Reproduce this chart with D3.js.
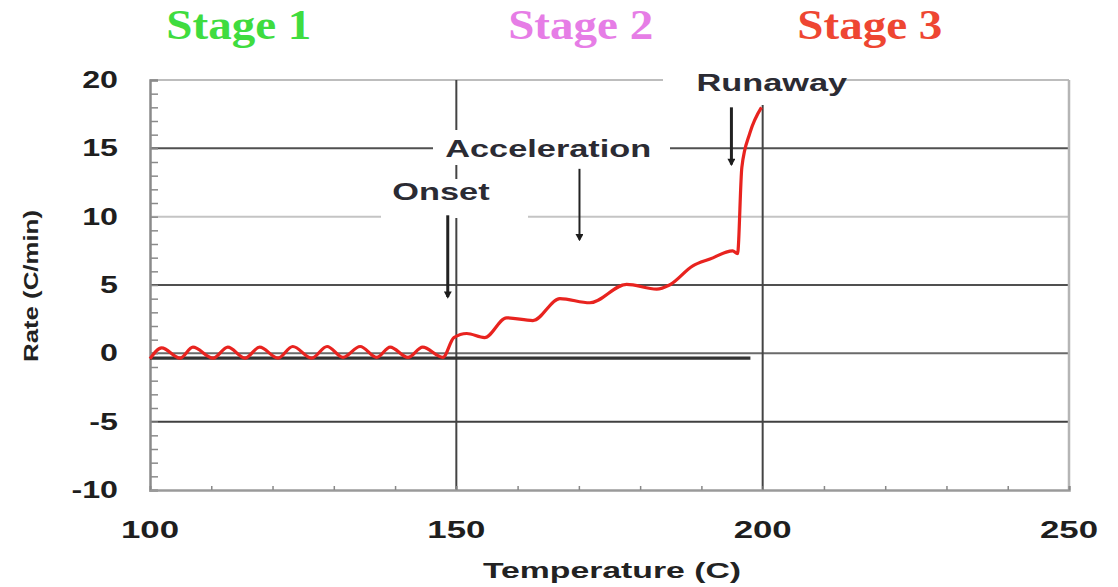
<!DOCTYPE html>
<html>
<head>
<meta charset="utf-8">
<script src="https://cdn.jsdelivr.net/npm/d3@7"></script>
<style>
html,body{margin:0;padding:0;background:#fff;}
svg{display:block;}
</style>
</head>
<body>
<svg id="chart" width="1118" height="587"></svg>
<script>
// ---- data ----
const temps = [100, 101.9, 104.9, 107.0, 110.3, 112.7, 115.5, 117.9, 120.9, 123.3, 126.4, 128.9, 131.5, 134.3, 137.0, 139.2, 142.1, 144.5, 147.8, 149.6, 151.7, 154.6, 158.2, 162.5, 166.9, 171.8, 177.8, 182.7, 184.8, 188.6, 191.4, 195.1, 195.9, 196.6, 197.9, 199.8];
const rates = [-0.4, 0.4, -0.35, 0.45, -0.35, 0.45, -0.35, 0.45, -0.35, 0.5, -0.35, 0.5, -0.3, 0.5, -0.3, 0.45, -0.3, 0.45, -0.3, 1.15, 1.45, 1.15, 2.6, 2.4, 4.0, 3.7, 5.05, 4.7, 5.0, 6.4, 6.9, 7.5, 7.3, 13.6, 16.1, 18.0];
const baselineTemps = [100, 198];
const baselineRates = [-0.35, -0.35];
const xTicks = [100, 150, 200, 250];
const yTicks = [20, 15, 10, 5, 0, -5, -10];
const stageNames = ["Stage 1", "Stage 2", "Stage 3"];
const stageColors = ["#3fdc3f", "#e67de6", "#ee4632"];
const stageTemps = [114.5, 170.3, 217.5];
const annotNames = ["Runaway", "Acceleration", "Onset"];
const annotTemps = [201.5, 165, 147.5];
const annotRates = [19.2, 14.4, 11.2];
const arrowTemps = [194.9, 170.1, 148.6];
const arrowFrom = [18.0, 13.5, 10.1];
const arrowTo = [13.6, 8.1, 3.9];

// ---- layout ----
const svg = d3.select("#chart");
const x = d3.scaleLinear().domain([100, 250]).range([150, 1069]);
const y = d3.scaleLinear().domain([-10, 20]).range([490, 80]);
const SANS = "'Liberation Sans', Arial, sans-serif";

function stretch(sel, f) {
  sel.each(function () {
    const w = this.getComputedTextLength();
    d3.select(this).attr("textLength", w * f).attr("lengthAdjust", "spacingAndGlyphs");
  });
}

// gridlines
const gridStyle = {20: ["#bdbdbd", 2], 15: ["#505050", 2], 10: ["#c4c4c4", 2], 5: ["#505050", 2], 0: ["#6a6a6a", 2], "-5": ["#404040", 2]};
svg.append("g").selectAll("line").data(yTicks.filter(v => v > -10)).join("line")
  .attr("x1", x(100)).attr("x2", x(250))
  .attr("y1", d => y(d)).attr("y2", d => y(d))
  .attr("stroke", d => gridStyle[d][0]).attr("stroke-width", d => gridStyle[d][1]);

// vertical gridlines
svg.append("g").selectAll("line").data([150, 200]).join("line")
  .attr("x1", d => x(d)).attr("x2", d => x(d))
  .attr("y1", y(20)).attr("y2", y(-10))
  .attr("stroke", "#444").attr("stroke-width", 2);
// right border
svg.append("line").attr("x1", x(250)).attr("x2", x(250)).attr("y1", y(20)).attr("y2", y(-10))
  .attr("stroke", "#b5b5b5").attr("stroke-width", 2.5);

// axes (left + bottom)
const yAxis = d3.axisLeft(y).ticks(30).tickSize(-8).tickFormat("");
const gy = svg.append("g").attr("transform", `translate(${x(100)},0)`).call(yAxis);
gy.select(".domain").attr("stroke", "#8a8a8a").attr("stroke-width", 2.5);
gy.selectAll(".tick line").attr("stroke", "#8a8a8a").attr("stroke-width", 1.5);

const xAxis = d3.axisBottom(x).ticks(15).tickSize(-4).tickFormat("");
const gx = svg.append("g").attr("transform", `translate(0,${y(-10)})`).call(xAxis);
gx.select(".domain").attr("stroke", "#9a9a9a").attr("stroke-width", 2.5);
gx.selectAll(".tick line").attr("stroke", "#888").attr("stroke-width", 1.5);

// tick labels
const yl = svg.append("g").selectAll("text").data(yTicks).join("text")
  .attr("x", 118).attr("y", d => y(d) + 8)
  .attr("text-anchor", "end")
  .attr("font-family", SANS).attr("font-weight", "bold").attr("font-size", 23)
  .attr("fill", "#1e1e1e").text(d => d);
stretch(yl, 1.4);

const xl = svg.append("g").selectAll("text").data(xTicks).join("text")
  .attr("x", d => x(d)).attr("y", 538)
  .attr("text-anchor", "middle")
  .attr("font-family", SANS).attr("font-weight", "bold").attr("font-size", 23.5)
  .attr("fill", "#1e1e1e").text(d => d);
stretch(xl, 1.48);

// axis titles
const xt = svg.append("text").attr("x", 612).attr("y", 578).attr("text-anchor", "middle")
  .attr("font-family", SANS).attr("font-weight", "bold").attr("font-size", 22.5)
  .attr("fill", "#222").text("Temperature (C)");
stretch(xt, 1.5);

svg.append("text").attr("transform", "translate(38,286) rotate(-90)")
  .attr("text-anchor", "middle")
  .attr("font-family", SANS).attr("font-weight", "bold").attr("font-size", 21)
  .attr("fill", "#222").attr("textLength", 152).attr("lengthAdjust", "spacingAndGlyphs")
  .text("Rate (C/min)");

// white boxes behind annotation text (break the gridlines)
const boxes = [[663, 66, 180, 39], [433, 130, 237, 35], [381, 179, 147, 39]];
svg.append("g").selectAll("rect").data(boxes).join("rect")
  .attr("x", d => d[0]).attr("y", d => d[1]).attr("width", d => d[2]).attr("height", d => d[3])
  .attr("fill", "#fff");

// baseline thick line
svg.append("path")
  .datum(baselineTemps.map((t, i) => [t, baselineRates[i]]))
  .attr("d", d3.line().x(d => x(d[0])).y(d => y(d[1])))
  .attr("stroke", "#333").attr("stroke-width", 3.2).attr("fill", "none");

// curve
svg.append("path")
  .datum(temps.map((t, i) => [t, rates[i]]))
  .attr("d", d3.line().x(d => x(d[0])).y(d => y(d[1])).curve(d3.curveMonotoneX))
  .attr("stroke", "#e8231f").attr("stroke-width", 3.2).attr("fill", "none")
  .attr("stroke-linejoin", "round");

// arrows
svg.append("defs").append("marker").attr("id", "ah")
  .attr("viewBox", "0 0 10 10").attr("refX", 8).attr("refY", 5)
  .attr("markerUnits", "userSpaceOnUse")
  .attr("markerWidth", 8).attr("markerHeight", 8).attr("orient", "auto")
  .append("path").attr("d", "M1,0 L10,5 L1,10 Z").attr("fill", "#1c1c1c");
svg.append("g").selectAll("line").data(arrowTemps).join("line")
  .attr("x1", d => x(d)).attr("x2", d => x(d))
  .attr("y1", (d, i) => y(arrowFrom[i])).attr("y2", (d, i) => y(arrowTo[i]) - 3)
  .attr("stroke", "#222").attr("stroke-width", (d, i) => i === 1 ? 2 : 3)
  .attr("marker-end", "url(#ah)");

// annotation labels
const an = svg.append("g").selectAll("text").data(annotNames).join("text")
  .attr("x", (d, i) => x(annotTemps[i])).attr("y", (d, i) => y(annotRates[i]))
  .attr("text-anchor", "middle")
  .attr("font-family", SANS).attr("font-weight", "bold").attr("font-size", 24)
  .attr("fill", "#2b2b33").text(d => d);
stretch(an, 1.43);

// stage labels
const st = svg.append("g").selectAll("text").data(stageNames).join("text")
  .attr("x", (d, i) => x(stageTemps[i])).attr("y", 39)
  .attr("text-anchor", "middle")
  .attr("font-family", "'Liberation Serif', 'Times New Roman', serif").attr("font-weight", "bold")
  .attr("font-size", 42)
  .attr("fill", (d, i) => stageColors[i]).text(d => d);
stretch(st, 1.12);
</script>
</body>
</html>
